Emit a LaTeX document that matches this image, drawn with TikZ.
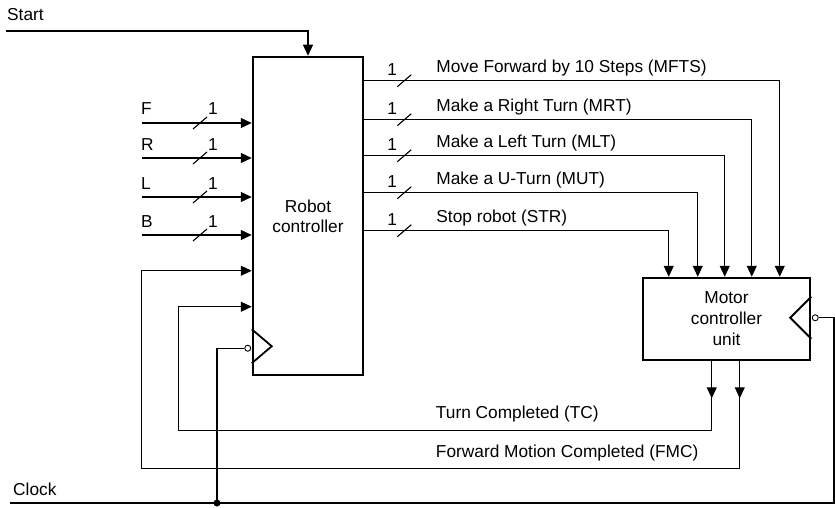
\documentclass[tikz,border=0pt]{standalone}
\usepackage{fontspec}
\setmainfont{Liberation Sans}
\usetikzlibrary{arrows.meta,calc,positioning}

\tikzset{
  blk/.style={rectangle, draw, line width=2.5pt, inner sep=0pt, align=center},
  sig/.style={line width=1.1pt},
  lbl/.style={anchor=base west, inner sep=0pt},
  bubble/.style={circle, draw, line width=0.9pt, inner sep=0pt, minimum size=6pt},
}

\begin{document}
\begin{tikzpicture}[x=1pt, y=-1pt, >={Triangle[length=11pt,width=10pt]}, font=\fontsize{17.3}{20}\selectfont]
\useasboundingbox (0,0) rectangle (835,508);
% blocks
\node[blk, minimum width=110pt, minimum height=318pt] (rc) at (308,216) {Robot\\controller};
\node[blk, minimum width=167pt, minimum height=82pt, font=\fontsize{17.3}{21}\selectfont] (mcu) at (726.5,319) {Motor\\controller\\unit};
% clock inputs
\draw[line width=1.8pt] ($(rc.south west)+(0,-47)$) -- ($(rc.south west)+(20,-30)$) -- ($(rc.south west)+(0,-13)$);
\node[bubble] (rbub) at ($(rc.south west)+(-4,-28)$) {};
\draw[line width=1.8pt] ($(mcu.north east)+(0,20)$) -- ($(mcu.north east)+(-21,41)$) -- ($(mcu.north east)+(0,62)$);
\node[bubble] (mbub) at ($(mcu.north east)+(4,41)$) {};
% start
\coordinate (start) at (6,31);
\node[lbl] at (7,21) {Start};
\draw[sig,->] (start) -| (rc.north);
% inputs
\foreach \nm/\y in {F/123,R/158,L/197,B/235}{
  \coordinate (in\nm) at (142,\y);
  \draw[sig,->] (in\nm) -- (in\nm -| rc.west);
  \node[lbl] at (141,\y-8) {\nm};
  \node[lbl] at (208,\y-8) {1};
  \draw[sig] (200,\y) ++(-7,6) -- ++(14,-12);
}
% outputs to motor controller
\foreach \nm/\dy/\dx/\txt in {mfts/25/138/{Move Forward by 10 Steps (MFTS)},
                             mrt/64/110/{Make a Right Turn (MRT)},
                             mlt/100/83/{Make a Left Turn (MLT)},
                             mut/137/56/{Make a U-Turn (MUT)},
                             str/175/27/{Stop robot (STR)}}{
  \coordinate (o\nm) at ($(rc.north east)+(0,\dy)$);
  \coordinate (m\nm) at ($(mcu.north west)+(\dx,0)$);
  \draw[sig,->] (o\nm) -| (m\nm);
  \draw[sig] ($(o\nm)+(40,0)$) ++(-7,6) -- ++(14,-12);
  \node[lbl] at ($(o\nm)+(23,-5)$) {1};
  \node[lbl] at ($(o\nm)+(72,-8.5)$) {\txt};
}
% feedback
\coordinate (fmcin) at ($(rc.north west)+(0,215)$);
\coordinate (tcin) at ($(rc.north west)+(0,251)$);
\coordinate (tcout) at ($(mcu.south west)+(70,0)$);
\coordinate (fmcout) at ($(mcu.south west)+(98,0)$);
\draw[sig,->] (tcout) -- ++(0,37);
\draw[sig,->] (tcout) |- ++(-533,69) |- (tcin);
\draw[sig,->] (fmcout) -- ++(0,37);
\draw[sig,->] (fmcout) |- ++(-598,107) |- (fmcin);
\node[lbl] at ($(tcout)+(-276,57)$) {Turn Completed (TC)};
\node[lbl] at ($(fmcout)+(-304,96)$) {Forward Motion Completed (FMC)};
% clock
\coordinate (clk) at (10,503);
\coordinate (clkend) at (834,503);
\coordinate (clkdot) at (217,503);
\node[lbl] at (13,495) {Clock};
\draw[sig] (clk) -- (clkend) |- (mbub.east);
\draw[sig] (rbub.west) -| (clkdot);
\fill (clkdot) circle (3.5pt);
\end{tikzpicture}
\end{document}
